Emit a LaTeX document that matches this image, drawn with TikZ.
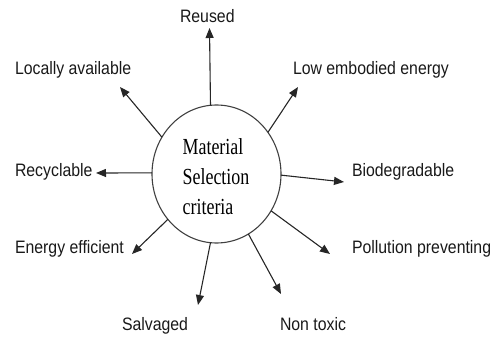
\documentclass[tikz,border=0pt]{standalone}
\usepackage{fontspec}
\usetikzlibrary{shapes.geometric,arrows.meta}
\newfontfamily\serifc{Liberation Serif}[FakeStretch=0.78]
\newfontfamily\sansc{Liberation Sans}[FakeStretch=0.88]
\begin{document}
\begin{tikzpicture}[x=1pt,y=-1pt,
  lbl/.style={anchor=base west,inner sep=0pt,outer sep=0pt,font=\sansc\fontsize{18}{20}\selectfont,text=black!90},
  conn/.style={draw=black!85,line width=1.1pt,-{Triangle[length=10pt,width=8pt]}},
  hub/.style={ellipse,draw=black!75,line width=1.1pt,minimum width=129pt,minimum height=138pt,inner sep=0pt,outer sep=0pt}]
\useasboundingbox (0,0) rectangle (495,339);
\node[hub] (c) at (216.5,174) {};
\node[align=left,inner sep=0pt,font=\serifc\fontsize{23}{30}\selectfont] (txt) at (216,177) {Material\\Selection\\criteria};
% labels
\node[lbl] (reused) at (180,23) {Reused};
\node[lbl] (local) at (15,75) {Locally available};
\node[lbl] (low) at (293,75) {Low embodied energy};
\node[lbl] (recy) at (15,177) {Recyclable};
\node[lbl] (bio) at (352,177) {Biodegradable};
\node[lbl] (energy) at (15,253) {Energy efficient};
\node[lbl] (poll) at (352,253) {Pollution preventing};
\node[lbl] (salv) at (122,330) {Salvaged};
\node[lbl] (nontox) at (280,330) {Non toxic};
% arrow tips
\coordinate (tReused) at (209.5,28);
\coordinate (tLocal) at (120,87);
\coordinate (tLow) at (298,87);
\coordinate (tRecy) at (96,173);
\coordinate (tBio) at (344,182);
\coordinate (tPoll) at (330,254);
\coordinate (tNon) at (281,294);
\coordinate (tSalv) at (198,305);
\coordinate (tEnergy) at (132,254);
% connectors
\draw[conn] (c.95.4) -- (tReused);
\draw[conn] (c.146.6) -- (tLocal);
\draw[conn] (c.39.2) -- (tLow);
\draw[conn] (c.179) -- (tRecy);
\draw[conn] (c.-1.8) -- (tBio);
\draw[conn] (c.-34.4) -- (tPoll);
\draw[conn] (c.-62.7) -- (tNon);
\draw[conn] (c.-95) -- (tSalv);
\draw[conn] (c.-137.7) -- (tEnergy);
\end{tikzpicture}
\end{document}
